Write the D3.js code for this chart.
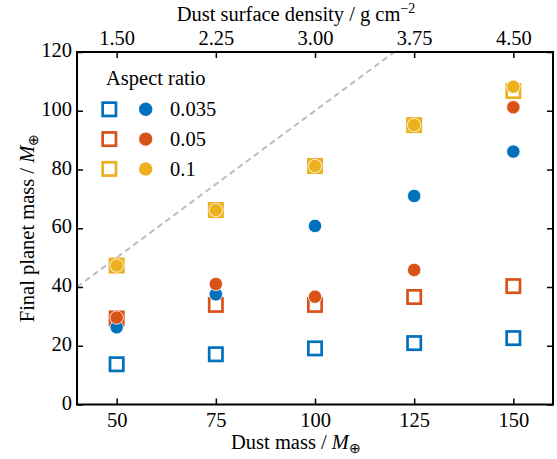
<!DOCTYPE html>
<html><head><meta charset="utf-8">
<script src="https://cdn.jsdelivr.net/npm/d3@7"></script>
<style>body{margin:0;background:#fff}text{font-family:"Liberation Serif","Times New Roman",serif;fill:#000}</style>
</head><body><svg id="c" width="557" height="459"></svg>
<script>
const dustMass = [50, 75, 100, 125, 150];
const densityTicks = ["1.50", "2.25", "3.00", "3.75", "4.50"];
const yTicks = [0, 20, 40, 60, 80, 100, 120];
const aspectRatios = ["0.035", "0.05", "0.1"];
const colors = ["#0072BD", "#D95319", "#EDB120"];
const squares035 = [13.7, 17.1, 19.1, 20.9, 22.6];
const squares05 = [29.3, 33.9, 33.9, 36.6, 40.3];
const squares1 = [47.3, 66.2, 81.2, 95.1, 106.7];
const circles035 = [26.3, 37.5, 60.8, 71.0, 86.1];
const circles05 = [29.6, 41.0, 36.7, 45.8, 101.2];
const circles1 = [47.3, 66.2, 81.2, 95.1, 108.2];
const oneToOne = [40, 160];

const svg = d3.select("#c");
const L = 77, R = 553, T = 52, B = 404.5;
const x = d3.scaleLinear().domain([40, 160]).range([L, R]);
const y = d3.scaleLinear().domain([0, 120]).range([B, T]);

svg.append("defs").append("clipPath").attr("id","clip").append("rect")
  .attr("x", L).attr("y", T).attr("width", R-L).attr("height", B-T);

svg.append("line").attr("clip-path","url(#clip)")
  .attr("x1", x(oneToOne[0])).attr("y1", y(oneToOne[0]))
  .attr("x2", x(oneToOne[1])).attr("y2", y(oneToOne[1]))
  .attr("stroke","#bdbdbd").attr("stroke-width",2).attr("stroke-dasharray","6,4");

const sq = [squares035, squares05, squares1];
const ci = [circles035, circles05, circles1];
const s = 13.3, r = 6.7;
sq.forEach((vals,i)=>{
  svg.append("g").selectAll("rect").data(vals).enter().append("rect")
    .attr("x",(d,j)=>x(dustMass[j])-s/2).attr("y",d=>y(d)-s/2)
    .attr("width",s).attr("height",s).attr("fill","none")
    .attr("stroke",colors[i]).attr("stroke-width",2.7);
});
ci.forEach((vals,i)=>{
  svg.append("g").selectAll("circle").data(vals).enter().append("circle")
    .attr("cx",(d,j)=>x(dustMass[j])).attr("cy",d=>y(d)).attr("r",r)
    .attr("fill",colors[i]).attr("stroke","#fff").attr("stroke-width",0.8);
});

const fs = 20.5;
const axBottom = d3.axisBottom(x).tickValues(dustMass).tickSize(-6).tickPadding(8);
const axTop = d3.axisTop(x).tickValues(dustMass).tickSize(-6).tickPadding(7).tickFormat((d,i)=>densityTicks[i]);
const axLeft = d3.axisLeft(y).tickValues(yTicks).tickSize(-6).tickPadding(5);
const axRight = d3.axisRight(y).tickValues(yTicks).tickSize(-6).tickFormat("");
function style(g){ g.select(".domain").remove(); g.selectAll("line").attr("stroke","#000").attr("stroke-width",1.5);
  g.selectAll("text").attr("font-size",fs).attr("font-family","Liberation Serif"); }
svg.append("g").attr("transform",`translate(0,${B})`).call(axBottom).call(style);
svg.append("g").attr("transform",`translate(0,${T})`).call(axTop).call(style);
svg.append("g").attr("transform",`translate(${L},0)`).call(axLeft).call(style)
  .selectAll("text").attr("dy","0.22em");
svg.append("g").attr("transform",`translate(${R},0)`).call(axRight).call(style);
svg.append("rect").attr("x",L).attr("y",T).attr("width",R-L).attr("height",B-T)
  .attr("fill","none").attr("stroke","#000").attr("stroke-width",2);

const xt = svg.append("text").attr("x",296).attr("y",449).attr("text-anchor","middle").attr("font-size",fs);
xt.append("tspan").text("Dust mass / ");
xt.append("tspan").attr("font-style","italic").text("M");
xt.append("tspan").attr("font-size",14).attr("dy",4).text("⊕");

const tt = svg.append("text").attr("x",296).attr("y",21).attr("text-anchor","middle").attr("font-size",fs);
tt.append("tspan").text("Dust surface density / g cm");
tt.append("tspan").attr("font-size",14).attr("dy",-8).text("−2");

const yt = svg.append("text").attr("transform","translate(34,228) rotate(-90)").attr("text-anchor","middle").attr("font-size",fs);
yt.append("tspan").text("Final planet mass / ");
yt.append("tspan").attr("font-style","italic").text("M");
yt.append("tspan").attr("font-size",14).attr("dy",4).text("⊕");

const lg = svg.append("g");
lg.append("text").attr("x",106).attr("y",85).attr("font-size",fs).text("Aspect ratio");
aspectRatios.forEach((a,i)=>{
  const yy = 109.3 + i*29.8;
  lg.append("rect").attr("x",109.3-s/2).attr("y",yy-s/2).attr("width",s).attr("height",s)
    .attr("fill","none").attr("stroke",colors[i]).attr("stroke-width",2.7);
  lg.append("circle").attr("cx",145.7).attr("cy",yy).attr("r",r).attr("fill",colors[i]);
  lg.append("text").attr("x",170).attr("y",yy+7).attr("font-size",fs).text(a);
});
</script></body></html>
